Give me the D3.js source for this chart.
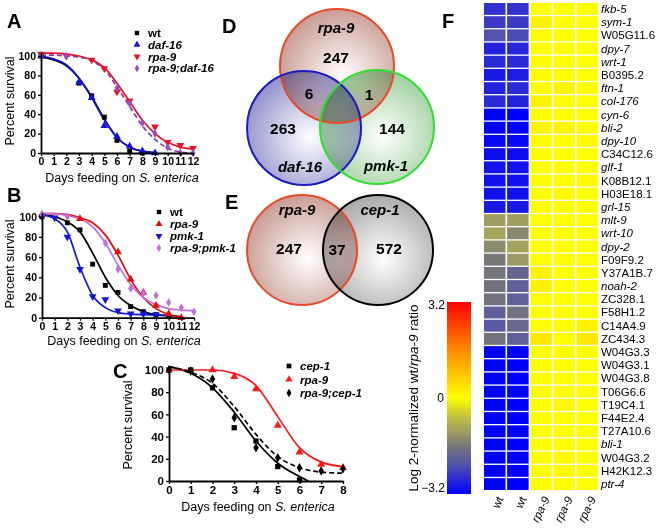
<!DOCTYPE html>
<html><head><meta charset="utf-8">
<script src="https://cdn.jsdelivr.net/npm/d3@7"></script>
<style>body{margin:0;background:#fff} svg{display:block} text{font-family:"Liberation Sans",Arial,sans-serif}</style>
</head><body><svg id="c" width="661" height="528"></svg>
<script>
// ---------- DATA ----------
// Panel A
const A_wt = [[0,100],[3,72],[4,59],[5,37],[6,13],[7,2],[8,0]];
const A_daf16 = [[0,100],[3,73],[4,57],[5,28],[6,17],[7,7],[8,2],[9,0]];
const A_rpa9 = [[0,102],[2,100],[4,96],[5,87],[6,63],[7,54],[9,27],[10,11],[11,8],[12,5]];
const A_rpa9daf16 = [[0,100],[2,100],[6,67],[7,51],[8,31],[9,20],[10,6],[11,0],[12,0]];
const A_fit_wt = [[0,99],[1,96],[2,90],[3,77],[4,58],[5,35],[6,16],[7,6],[8,2],[9,0.5]];
const A_fit_daf16 = [[0,100],[1,97],[2,91],[3,77],[4,57],[5,34],[6,16],[7,6],[8,2],[9,0.3]];
const A_fit_rpa9 = [[0,103],[1,103],[2,102],[3,100],[4,96],[5,88],[6,72],[7,53],[8,34],[9,20],[10,11],[11,6],[12,4]];
const A_fit_rpa9daf16 = [[0,101],[1,101],[2,100],[3,99],[4,95],[5,86],[6,68],[7,48],[8,28],[9,14],[10,5],[11,1],[11.6,0]];
// Panel B
const B_wt = [[0,100],[2,94],[3,87],[4,53],[5,32],[6,25],[7,11],[8,6],[9,3],[10,1]];
const B_rpa9 = [[0,102],[3,98],[6,65],[7,38],[8,25],[9,12],[10,4],[11,0]];
const B_pmk1 = [[0,100],[1,99],[2,80],[3,48],[4,21],[5,18],[6,7],[7,4],[8,4],[9,3]];
const B_rpa9pmk1 = [[0,102],[2,100],[5,74],[6,48],[7,29],[8,24],[9,22],[10,15],[11,10],[12,6]];
const B_fit_wt = [[0,102],[1,100],[2,95],[3,85],[4,64],[5,40],[6,22],[7,12],[8,6],[9,3],[10,2],[11,1]];
const B_fit_rpa9 = [[0,103],[1,103],[2,102],[3,99],[4,94],[5,82],[6,62],[7,38],[8,20],[9,9],[10,3],[11,0]];
const B_fit_pmk1 = [[0,102],[1,98],[2,85],[3,50],[4,22],[5,10],[6,5],[7,3.5],[8,3],[9,2.5],[10,2]];
const B_fit_rpa9pmk1 = [[0,103],[1,103],[2,101],[3,98],[4,90],[5,74],[6,52],[7,33],[8,20],[9,13],[10,9],[11,7.5],[12,7]];
// Panel C
const C_cep1 = [[0,100],[1,100],[2,84],[3,48],[4,36],[5,13],[6,1]];
const C_rpa9 = [[0,100],[2,100],[3,94],[4,83],[5,50],[6,26],[7,15],[8,12]];
const C_rpa9cep1 = [[0,100],[1,99],[2,92],[3,57],[4,30],[5,21],[6,12],[7,9],[8,11]];
const C_fit_cep1 = [[0,103],[1,97],[2,84],[3,62],[4,36],[5,16],[6,4],[6.4,0]];
const C_fit_rpa9 = [[0,100],[1,100],[2,100],[3,97],[4,86],[5,58],[6,30],[7,17],[8,13]];
const C_fit_rpa9cep1 = [[0,103],[1,98],[2,88],[3,67],[4,42],[5,22],[6,12],[7,8],[8,7]];
const yTicks = [0,20,40,60,80,100];
// Venn D / E
const vennD = [{name:"rpa-9",only:247},{name:"daf-16",only:263},{name:"pmk-1",only:144}];
const vennD_overlaps = [{pair:"rpa-9 & daf-16",n:6},{pair:"rpa-9 & pmk-1",n:1}];
const vennE = [{name:"rpa-9",only:247},{name:"cep-1",only:572}];
const vennE_overlap = 37;
// Panel F heatmap
const genes = ["fkb-5","sym-1","W05G11.6","dpy-7","wrt-1","B0395.2","ftn-1","col-176","cyn-6","bli-2","dpy-10","C34C12.6","glf-1","K08B12.1","H03E18.1","grl-15","mlt-9","wrt-10","dpy-2","F09F9.2","Y37A1B.7","noah-2","ZC328.1","F58H1.2","C14A4.9","ZC434.3","W04G3.3","W04G3.1","W04G3.8","T06G6.6","T19C4.1","F44E2.4","T27A10.6","bli-1","W04G3.2","H42K12.3","ptr-4"];
const italicGenes = ["fkb-5","sym-1","dpy-7","wrt-1","ftn-1","col-176","cyn-6","bli-2","dpy-10","glf-1","grl-15","mlt-9","wrt-10","dpy-2","noah-2","bli-1","ptr-4"];
const samples = ["wt","wt","rpa-9","rpa-9","rpa-9"];
const wt1 = [-2.6,-2.5,-2.2,-2.8,-2.7,-2.9,-2.8,-2.7,-3.2,-3.2,-3.1,-3.05,-3.0,-3.0,-3.0,-2.9,-1.1,-1.0,-1.35,-1.6,-1.65,-1.7,-1.7,-2.0,-2.1,-1.7,-3.2,-3.2,-3.2,-3.2,-3.2,-3.2,-3.2,-3.2,-3.2,-3.2,-3.2];
const wt2 = [-2.6,-2.5,-2.3,-2.75,-2.7,-2.85,-2.7,-2.8,-3.2,-3.2,-3.1,-3.05,-3.0,-3.0,-3.0,-2.9,-1.1,-1.4,-1.05,-1.15,-1.9,-2.0,-2.0,-1.7,-1.85,-2.0,-3.2,-3.2,-3.2,-3.2,-3.2,-3.2,-3.2,-3.2,-3.2,-3.2,-3.2];
const rpa9a = [0,0.2,0,0,0,0,0,0.15,0,0.15,0,0,0,0,0,0,0,0,0,0,0.2,0.2,0,0,0,0.3,0,0,0,0.05,0,0,0,0,0,0,0];
const rpa9b = [0,0,0,0,0,0,0.15,0,0,0.15,0,0,0,0,0.1,0,0,0,0,0,0,0,0,0,0,0,0,0,0,0,0.1,0,0,0,0.1,0.1,0];
const rpa9c = [0.05,0,0,0,0,0,0,0,0,0,0.1,0,0,0.1,0,0,0,0,0,0,0,0,0,0,0.15,0.3,0,0,0,0,0,0,0,0,0,0,0];
const cbTicks = [-3.2,0,3.2];

// ---------- DRAW ----------
const svg = d3.select("#c");
const FONT = '"Liberation Sans",Arial,sans-serif';
const line = d3.line().curve(d3.curveMonotoneX);

function sym(type, size, rot){ return {type,size,rot:rot||0}; }

function survival(cfg){
  const x = d3.scaleLinear().domain([0,cfg.xmax]).range([cfg.x0,cfg.x1]);
  const y = d3.scaleLinear().domain([0,104]).range([cfg.yb, cfg.yb-(cfg.yb-cfg.y100)*1.04]);
  const g = svg.append("g");
  cfg.series.forEach(s=>{
    g.append("path").attr("d", line.x(d=>x(d[0])).y(d=>y(d[1]))(s.fit))
      .attr("fill","none").attr("stroke",s.color).attr("stroke-width",1.7)
      .attr("stroke-dasharray", s.dash?"5,3":null);
  });
  cfg.series.forEach(s=>{
    g.selectAll(null).data(s.pts).join("path")
      .attr("d", d3.symbol().type(s.sym.type).size(s.sym.size))
      .attr("transform", d=>`translate(${x(d[0])},${y(d[1])}) rotate(${s.sym.rot})`)
      .attr("fill", s.mcolor||s.color);
  });
  const ax = g.append("g").attr("transform",`translate(0,${cfg.yb})`)
    .call(d3.axisBottom(x).tickValues(d3.range(0,cfg.xmax+1)).tickSize(3).tickSizeOuter(0).tickPadding(2));
  const ay = g.append("g").attr("transform",`translate(${cfg.x0},0)`)
    .call(d3.axisLeft(y).tickValues(yTicks).tickSize(3).tickSizeOuter(0).tickPadding(2));
  [ax,ay].forEach(a=>{
    a.select(".domain").attr("stroke-width",1.8);
    a.selectAll(".tick line").attr("stroke-width",1.3);
    a.selectAll("text").attr("font-family",FONT).attr("font-weight","bold").attr("font-size",cfg.fs).attr("fill","#000");
  });
  g.append("text").attr("transform",`translate(${cfg.ylx},${cfg.yly}) rotate(-90)`)
    .attr("text-anchor","middle").attr("font-size",12.5).text("Percent survival");
  const t = g.append("text").attr("x",cfg.xlx).attr("y",cfg.xly).attr("text-anchor","middle").attr("font-size",12.5);
  t.append("tspan").text("Days feeding on ");
  t.append("tspan").attr("font-style","italic").text("S. enterica");
  cfg.series.forEach((s,i)=>{
    const ly = cfg.ly + i*cfg.lstep;
    g.append("path").attr("d", d3.symbol().type(s.sym.type).size(s.sym.size*0.8))
      .attr("transform",`translate(${cfg.lx},${ly}) rotate(${s.sym.rot})`).attr("fill",s.mcolor||s.color);
    g.append("text").attr("x",cfg.lx+11).attr("y",ly+4).attr("font-size",11.5).attr("font-weight","bold")
      .attr("font-style", s.name==="wt"?"normal":"italic").text(s.name);
  });
  g.append("text").attr("x",cfg.px).attr("y",cfg.py).attr("font-size",20).attr("font-weight","bold").text(cfg.letter);
}

const SQ = d3.symbolSquare, TR = d3.symbolTriangle, DI = d3.symbolDiamond;

survival({letter:"A",px:7,py:28,x0:41,x1:193,xmax:12,yb:153,y100:56,fs:10.5,
  ylx:14,yly:101,xlx:122,xly:182,lx:137,ly:33,lstep:11.8,
  series:[
    {name:"wt",pts:A_wt,fit:A_fit_wt,color:"#000",sym:sym(SQ,24)},
    {name:"daf-16",pts:A_daf16,fit:A_fit_daf16,color:"#1414d8",sym:sym(TR,26)},
    {name:"rpa-9",pts:A_rpa9,fit:A_fit_rpa9,color:"#e8102a",sym:sym(TR,26,180)},
    {name:"rpa-9;daf-16",pts:A_rpa9daf16,fit:A_fit_rpa9daf16,color:"#8a3aa8",mcolor:"#9c4cc0",dash:true,sym:sym(DI,22)}
  ]});

survival({letter:"B",px:7,py:202,x0:42,x1:194,xmax:12,yb:317.7,y100:216.7,fs:10.5,
  ylx:14,yly:264,xlx:124,xly:345,lx:159,ly:212,lstep:12,
  series:[
    {name:"wt",pts:B_wt,fit:B_fit_wt,color:"#000",sym:sym(SQ,24)},
    {name:"rpa-9",pts:B_rpa9,fit:B_fit_rpa9,color:"#e80a0a",sym:sym(TR,26)},
    {name:"pmk-1",pts:B_pmk1,fit:B_fit_pmk1,color:"#1414d8",sym:sym(TR,26,180)},
    {name:"rpa-9;pmk-1",pts:B_rpa9pmk1,fit:B_fit_rpa9pmk1,color:"#c070d8",sym:sym(DI,22)}
  ]});

survival({letter:"C",px:113,py:378,x0:169,x1:343,xmax:8,yb:481,y100:370,fs:11.5,
  ylx:132,yly:425,xlx:258,xly:511,lx:289,ly:366,lstep:13.5,
  series:[
    {name:"cep-1",pts:C_cep1,fit:C_fit_cep1,color:"#000",sym:sym(SQ,28)},
    {name:"rpa-9",pts:C_rpa9,fit:C_fit_rpa9,color:"#ff1a1a",sym:sym(TR,28)},
    {name:"rpa-9;cep-1",pts:C_rpa9cep1,fit:C_fit_rpa9cep1,color:"#000",dash:true,sym:sym(DI,26)}
  ]});

// ---------- VENN ----------
const defs = svg.append("defs");
function radGrad(id, edge){
  const gr = defs.append("radialGradient").attr("id",id).attr("cx","55%").attr("cy","58%").attr("r","60%");
  gr.append("stop").attr("offset","0%").attr("stop-color","#ffffff");
  gr.append("stop").attr("offset","100%").attr("stop-color",edge);
}
radGrad("gR","#c89a92"); radGrad("gB","#9090cc"); radGrad("gG","#98cc98"); radGrad("gK","#a8a8a8"); radGrad("gR2","#c89a92");

const vD = svg.append("g");
const circD = [
  {cx:337,cy:66,r:57,fill:"url(#gR)",stroke:"#e84a28"},
  {cx:304,cy:128,r:57,fill:"url(#gB)",stroke:"#1a1ac0"},
  {cx:377,cy:127,r:57,fill:"url(#gG)",stroke:"#30e030"}
];
circD.forEach(c=>vD.append("circle").attr("cx",c.cx).attr("cy",c.cy).attr("r",c.r).attr("fill",c.fill).style("mix-blend-mode","multiply"));
circD.forEach(c=>vD.append("circle").attr("cx",c.cx).attr("cy",c.cy).attr("r",c.r).attr("fill","none").attr("stroke",c.stroke).attr("stroke-width",2));
const vt = (g,x,y,t,it)=>g.append("text").attr("x",x).attr("y",y).attr("text-anchor","middle").attr("font-size",it?15:15.5)
  .attr("font-weight","bold").attr("font-style",it?"italic":"normal").text(t);
vt(vD,336,33,vennD[0].name,true); vt(vD,336,63,vennD[0].only);
vt(vD,300,172,vennD[1].name,true); vt(vD,283,134,vennD[1].only);
vt(vD,386,171,vennD[2].name,true); vt(vD,392,134,vennD[2].only);
vt(vD,309,99,vennD_overlaps[0].n); vt(vD,369,100,vennD_overlaps[1].n);
vD.append("text").attr("x",222).attr("y",33).attr("font-size",20).attr("font-weight","bold").text("D");

const vE = svg.append("g");
const circE = [
  {cx:302,cy:250,r:55,fill:"url(#gR2)",stroke:"#e84a28"},
  {cx:378,cy:250,r:55,fill:"url(#gK)",stroke:"#000"}
];
circE.forEach(c=>vE.append("circle").attr("cx",c.cx).attr("cy",c.cy).attr("r",c.r).attr("fill",c.fill).style("mix-blend-mode","multiply"));
circE.forEach(c=>vE.append("circle").attr("cx",c.cx).attr("cy",c.cy).attr("r",c.r).attr("fill","none").attr("stroke",c.stroke).attr("stroke-width",2));
vt(vE,297,215,vennE[0].name,true); vt(vE,289,254,vennE[0].only);
vt(vE,380,215,vennE[1].name,true); vt(vE,389,254,vennE[1].only);
vt(vE,337,255,vennE_overlap);
vE.append("text").attr("x",225).attr("y",209).attr("font-size",20).attr("font-weight","bold").text("E");

// ---------- HEATMAP ----------
const color = d3.scaleLinear()
  .domain([0,0.15,0.25,0.33,0.4,0.5,0.72,1].map(t=>-3.2+6.4*t))
  .range(["#0000ff","#5050b0","#787878","#a0a060","#c0c040","#ffff00","#ff9900","#ff0000"])
  .clamp(true);
const cols = [wt1,wt2,rpa9a,rpa9b,rpa9c];
const xb = d3.scaleBand().domain(d3.range(5)).range([484,598]).paddingInner(0.07);
const yb = d3.scaleBand().domain(genes).range([3,490]).paddingInner(0.1);
const hm = svg.append("g");
cols.forEach((vals,ci)=>{
  hm.selectAll(null).data(vals).join("rect")
    .attr("x",xb(ci)).attr("width",xb.bandwidth())
    .attr("y",(d,i)=>yb(genes[i])).attr("height",yb.bandwidth())
    .attr("fill",d=>color(d));
});
hm.selectAll(null).data(genes).join("text")
  .attr("x",601).attr("y",d=>yb(d)+yb.bandwidth()/2+4)
  .attr("font-size",11.5).attr("font-style",d=>italicGenes.includes(d)?"italic":"normal").text(d=>d);
hm.selectAll(null).data(samples).join("text")
  .attr("transform",(d,i)=>`translate(${xb(i)+xb.bandwidth()/2+9},${499}) rotate(-64)`)
  .attr("text-anchor","end").attr("font-size",11.5).attr("font-style",d=>d==="wt"?"normal":"italic").text(d=>d);
svg.append("text").attr("x",442).attr("y",28).attr("font-size",20).attr("font-weight","bold").text("F");

// colorbar
const lg = defs.append("linearGradient").attr("id","cb").attr("x1",0).attr("y1",1).attr("x2",0).attr("y2",0);
color.domain().forEach((v,i)=>lg.append("stop").attr("offset",(v+3.2)/6.4).attr("stop-color",color.range()[i]));
svg.append("rect").attr("x",447).attr("y",302).attr("width",24).attr("height",192).attr("fill","url(#cb)");
svg.selectAll(null).data(cbTicks).join("text")
  .attr("x",d=>d===0?444:445).attr("y",d=>d===3.2?309:d===0?402:492).attr("text-anchor","end")
  .attr("font-size",12).text(d=>d===0?"0":d3.format(".1f")(d));
const cl = svg.append("text").attr("transform","translate(418,398) rotate(-90)").attr("text-anchor","middle").attr("font-size",13.5);
cl.append("tspan").text("Log 2-normalized wt/");
cl.append("tspan").attr("font-style","italic").text("rpa-9");
cl.append("tspan").text(" ratio");
</script></body></html>
